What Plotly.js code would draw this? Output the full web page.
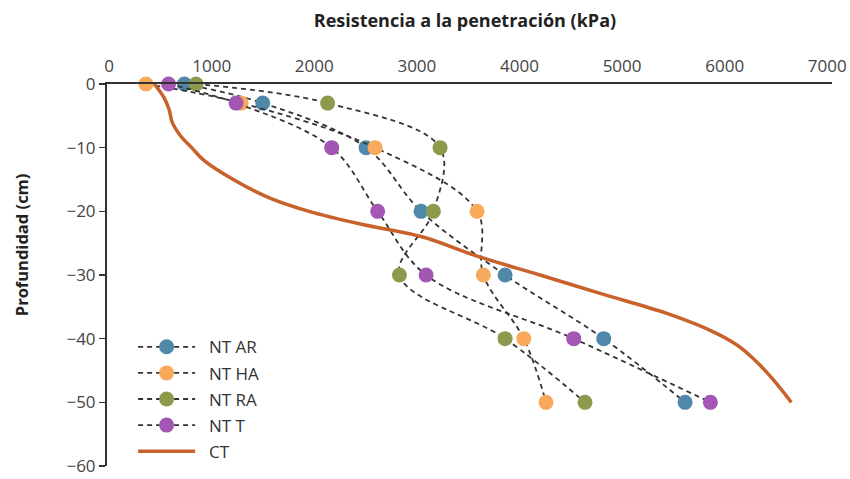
<!DOCTYPE html>
<html>
<head>
<meta charset="utf-8">
<script src="https://cdn.plot.ly/plotly-3.0.1.min.js"></script>
<style>html,body{margin:0;padding:0;background:#fff;}#chart{width:850px;height:479px;}</style>
</head>
<body>
<div id="chart"></div>
<script>
// Depth levels (cm)
const depths = [0, -3, -10, -20, -30, -40, -50];
// Penetration resistance (kPa) by treatment
const ntAR = [734, 1498, 2505, 3041, 3860, 4821, 5614];
const ntHA = [360, 1287, 2593, 3587, 3648, 4042, 4259];
const ntRA = [848, 2130, 3226, 3161, 2830, 3860, 4639];
const ntT  = [580, 1238, 2170, 2618, 3090, 4529, 5861];
// CT curve read-off points
const ctDepth = [0, -2, -4, -6, -8, -10, -12, -15, -18, -20, -22, -24, -27, -30, -33, -36, -39, -41, -43, -46, -50];
const ctVal   = [440, 530, 585, 615, 690, 805, 925, 1210, 1580, 1950, 2450, 3050, 3580, 4200, 4810, 5430, 5900, 6120, 6270, 6450, 6650];

const names = ['NT AR', 'NT HA', 'NT RA', 'NT T'];
const series = [ntAR, ntHA, ntRA, ntT];
const colors = ['#4f88a9', '#f8a95b', '#8c9b4b', '#a356b3'];
const pad = '\u00a0\u00a0';

const traces = series.map((vals, i) => ({
  x: vals, y: depths, name: pad + names[i], legendgroup: 'g' + i,
  type: 'scatter', mode: 'lines+markers', cliponaxis: false,
  line: {color: '#333333', width: 1.8, dash: '5px,4px', shape: 'spline', smoothing: 1},
  marker: {color: colors[i], size: 15}
}));
traces.push({
  x: ctVal, y: ctDepth, name: pad + 'CT', legendgroup: 'g4',
  type: 'scatter', mode: 'lines', cliponaxis: false,
  line: {color: '#c8622a', width: 3.5, shape: 'spline', smoothing: 1}
});

const tickFont = {family: 'Open Sans, sans-serif', size: 17, color: '#444'};
const layout = {
  width: 850, height: 479,
  margin: {l: 107, r: 18, t: 84, b: 13, autoexpand: false},
  paper_bgcolor: '#fff', plot_bgcolor: '#fff',
  showlegend: true,
  title: {text: 'Resistencia a la penetración (kPa)', xref: 'container', yref: 'container',
          x: 0.547, y: 0.956, xanchor: 'center', yanchor: 'middle',
          font: {family: 'Open Sans, sans-serif', size: 18, color: '#222', weight: 'bold'}},
  xaxis: {side: 'top', range: [-20, 7046], tickvals: [0,1000,2000,3000,4000,5000,6000,7000],
          showgrid: false, zeroline: false, showline: true, linecolor: '#333', linewidth: 2.3,
          ticks: '', ticklabelstandoff: 3, tickfont: tickFont, fixedrange: true},
  yaxis: {range: [-60, 0], dtick: 10, showgrid: false, zeroline: false, showline: true,
          linecolor: '#333', linewidth: 2, ticks: 'outside', ticklen: 6, tickwidth: 1.5,
          tickcolor: '#333', tickfont: tickFont, ticklabeloverflow: 'allow', fixedrange: true},
  legend: {x: 0.036, y: 0.358, xanchor: 'left', yanchor: 'top', bgcolor: 'rgba(0,0,0,0)',
           font: {family: 'Open Sans, sans-serif', size: 17, color: '#333'},
           tracegroupgap: 1, itemwidth: 57},
  annotations: [{text: 'Profundidad (cm)', xref: 'paper', yref: 'paper', x: -0.1186, y: 0.578,
                 textangle: -90, showarrow: false, xanchor: 'center', yanchor: 'middle',
                 font: {family: 'Open Sans, sans-serif', size: 16.5, color: '#222', weight: 'bold'}}]
};
Plotly.newPlot('chart', traces, layout, {displayModeBar: false, staticPlot: true});
</script>
</body>
</html>
